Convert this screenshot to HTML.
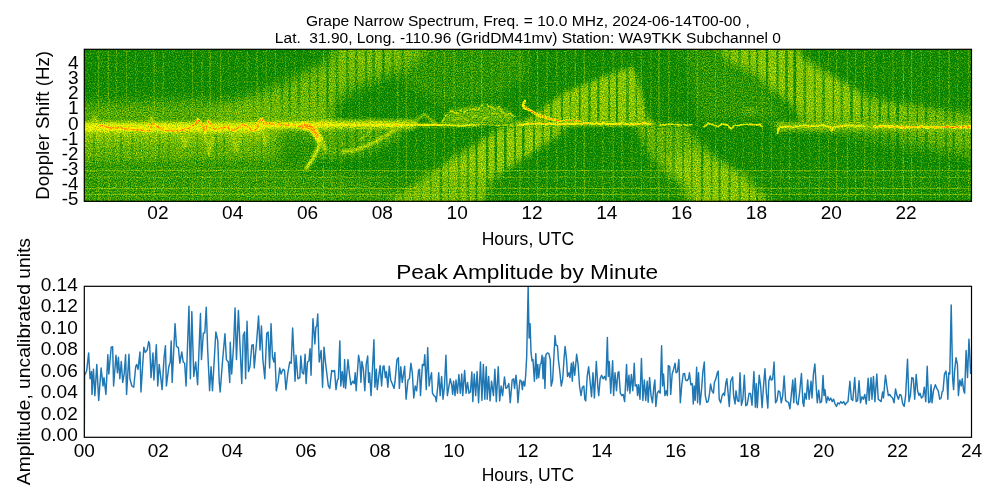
<!DOCTYPE html>
<html><head><meta charset="utf-8"><title>Grape Narrow Spectrum</title>
<style>
html,body{margin:0;padding:0;background:#fff;}
body{width:1000px;height:500px;position:relative;overflow:hidden;font-family:"Liberation Sans",sans-serif;color:#000;}
svg{position:absolute;left:0;top:0;}
</style></head><body>
<svg width="1000" height="500" viewBox="0 0 1000 500">
<defs>
<clipPath id="c1"><rect x="84.3" y="49.3" width="887.2" height="152.0"/></clipPath>
<clipPath id="c2"><rect x="84.3" y="286.3" width="887.2" height="151.0"/></clipPath>
<mask id="stripes" maskUnits="userSpaceOnUse" x="60" y="30" width="940" height="190"><rect x="60" y="30" width="940" height="190" fill="#fff"/><path d="M93.83 40V210" stroke="#000" stroke-opacity="0.87" stroke-width="2.25"/><path d="M103.30 40V210" stroke="#000" stroke-opacity="0.53" stroke-width="2.30"/><path d="M112.89 40V210" stroke="#000" stroke-opacity="0.49" stroke-width="2.65"/><path d="M121.17 40V210" stroke="#000" stroke-opacity="0.76" stroke-width="2.68"/><path d="M132.30 40V210" stroke="#000" stroke-opacity="0.74" stroke-width="2.94"/><path d="M140.01 40V210" stroke="#000" stroke-opacity="0.69" stroke-width="1.33"/><path d="M149.42 40V210" stroke="#000" stroke-opacity="0.46" stroke-width="1.71"/><path d="M159.28 40V210" stroke="#000" stroke-opacity="0.68" stroke-width="2.73"/><path d="M168.75 40V210" stroke="#000" stroke-opacity="0.66" stroke-width="2.43"/><path d="M179.10 40V210" stroke="#000" stroke-opacity="0.83" stroke-width="2.99"/><path d="M187.08 40V210" stroke="#000" stroke-opacity="0.58" stroke-width="1.69"/><path d="M197.34 40V210" stroke="#000" stroke-opacity="0.83" stroke-width="1.98"/><path d="M207.07 40V210" stroke="#000" stroke-opacity="0.45" stroke-width="2.74"/><path d="M216.33 40V210" stroke="#000" stroke-opacity="0.89" stroke-width="2.10"/><path d="M224.01 40V210" stroke="#000" stroke-opacity="0.80" stroke-width="2.37"/><path d="M233.39 40V210" stroke="#000" stroke-opacity="0.88" stroke-width="1.87"/><path d="M242.80 40V210" stroke="#000" stroke-opacity="0.50" stroke-width="1.72"/><path d="M253.52 40V210" stroke="#000" stroke-opacity="0.70" stroke-width="1.60"/><path d="M261.66 40V210" stroke="#000" stroke-opacity="0.51" stroke-width="2.54"/><path d="M270.86 40V210" stroke="#000" stroke-opacity="0.55" stroke-width="2.02"/><path d="M281.92 40V210" stroke="#000" stroke-opacity="0.59" stroke-width="2.67"/><path d="M289.75 40V210" stroke="#000" stroke-opacity="0.83" stroke-width="1.97"/><path d="M298.88 40V210" stroke="#000" stroke-opacity="0.55" stroke-width="2.98"/><path d="M309.58 40V210" stroke="#000" stroke-opacity="0.58" stroke-width="1.86"/><path d="M317.57 40V210" stroke="#000" stroke-opacity="0.56" stroke-width="2.29"/><path d="M327.48 40V210" stroke="#000" stroke-opacity="0.88" stroke-width="2.07"/><path d="M337.24 40V210" stroke="#000" stroke-opacity="0.53" stroke-width="2.77"/><path d="M347.26 40V210" stroke="#000" stroke-opacity="0.56" stroke-width="2.69"/><path d="M356.28 40V210" stroke="#000" stroke-opacity="0.54" stroke-width="2.90"/><path d="M365.92 40V210" stroke="#000" stroke-opacity="0.64" stroke-width="2.33"/><path d="M373.58 40V210" stroke="#000" stroke-opacity="0.56" stroke-width="2.94"/><path d="M383.37 40V210" stroke="#000" stroke-opacity="0.72" stroke-width="2.70"/><path d="M392.56 40V210" stroke="#000" stroke-opacity="0.48" stroke-width="2.52"/><path d="M402.68 40V210" stroke="#000" stroke-opacity="0.73" stroke-width="2.75"/><path d="M412.75 40V210" stroke="#000" stroke-opacity="0.46" stroke-width="1.65"/><path d="M421.16 40V210" stroke="#000" stroke-opacity="0.53" stroke-width="1.40"/><path d="M430.76 40V210" stroke="#000" stroke-opacity="0.61" stroke-width="1.52"/><path d="M440.93 40V210" stroke="#000" stroke-opacity="0.76" stroke-width="2.42"/><path d="M448.60 40V210" stroke="#000" stroke-opacity="0.46" stroke-width="1.36"/><path d="M459.08 40V210" stroke="#000" stroke-opacity="0.46" stroke-width="2.94"/><path d="M467.99 40V210" stroke="#000" stroke-opacity="0.59" stroke-width="2.54"/><path d="M476.53 40V210" stroke="#000" stroke-opacity="0.78" stroke-width="2.23"/><path d="M487.21 40V210" stroke="#000" stroke-opacity="0.81" stroke-width="2.50"/><path d="M495.79 40V210" stroke="#000" stroke-opacity="0.86" stroke-width="2.46"/><path d="M505.27 40V210" stroke="#000" stroke-opacity="0.84" stroke-width="2.64"/><path d="M515.04 40V210" stroke="#000" stroke-opacity="0.71" stroke-width="1.95"/><path d="M523.30 40V210" stroke="#000" stroke-opacity="0.90" stroke-width="2.39"/><path d="M533.95 40V210" stroke="#000" stroke-opacity="0.78" stroke-width="1.96"/><path d="M542.73 40V210" stroke="#000" stroke-opacity="0.49" stroke-width="2.73"/><path d="M551.26 40V210" stroke="#000" stroke-opacity="0.67" stroke-width="2.32"/><path d="M561.95 40V210" stroke="#000" stroke-opacity="0.73" stroke-width="2.15"/><path d="M570.42 40V210" stroke="#000" stroke-opacity="0.59" stroke-width="1.32"/><path d="M579.66 40V210" stroke="#000" stroke-opacity="0.86" stroke-width="1.59"/><path d="M589.50 40V210" stroke="#000" stroke-opacity="0.60" stroke-width="2.82"/><path d="M598.36 40V210" stroke="#000" stroke-opacity="0.81" stroke-width="2.03"/><path d="M609.08 40V210" stroke="#000" stroke-opacity="0.71" stroke-width="1.95"/><path d="M616.94 40V210" stroke="#000" stroke-opacity="0.83" stroke-width="2.14"/><path d="M627.44 40V210" stroke="#000" stroke-opacity="0.57" stroke-width="2.92"/><path d="M636.28 40V210" stroke="#000" stroke-opacity="0.55" stroke-width="1.77"/><path d="M645.98 40V210" stroke="#000" stroke-opacity="0.59" stroke-width="2.14"/><path d="M656.04 40V210" stroke="#000" stroke-opacity="0.48" stroke-width="2.07"/><path d="M665.18 40V210" stroke="#000" stroke-opacity="0.77" stroke-width="1.37"/><path d="M673.40 40V210" stroke="#000" stroke-opacity="0.46" stroke-width="2.65"/><path d="M683.05 40V210" stroke="#000" stroke-opacity="0.82" stroke-width="1.34"/><path d="M691.77 40V210" stroke="#000" stroke-opacity="0.73" stroke-width="1.38"/><path d="M702.10 40V210" stroke="#000" stroke-opacity="0.81" stroke-width="2.41"/><path d="M711.56 40V210" stroke="#000" stroke-opacity="0.66" stroke-width="1.64"/><path d="M719.57 40V210" stroke="#000" stroke-opacity="0.77" stroke-width="2.10"/><path d="M729.44 40V210" stroke="#000" stroke-opacity="0.76" stroke-width="1.89"/><path d="M739.48 40V210" stroke="#000" stroke-opacity="0.63" stroke-width="2.59"/><path d="M749.42 40V210" stroke="#000" stroke-opacity="0.87" stroke-width="1.45"/><path d="M757.22 40V210" stroke="#000" stroke-opacity="0.73" stroke-width="2.07"/><path d="M767.06 40V210" stroke="#000" stroke-opacity="0.85" stroke-width="2.27"/><path d="M777.55 40V210" stroke="#000" stroke-opacity="0.74" stroke-width="2.09"/><path d="M786.46 40V210" stroke="#000" stroke-opacity="0.74" stroke-width="2.69"/><path d="M794.79 40V210" stroke="#000" stroke-opacity="0.89" stroke-width="2.83"/><path d="M804.79 40V210" stroke="#000" stroke-opacity="0.59" stroke-width="2.64"/><path d="M814.78 40V210" stroke="#000" stroke-opacity="0.49" stroke-width="1.89"/><path d="M823.52 40V210" stroke="#000" stroke-opacity="0.67" stroke-width="2.61"/><path d="M833.39 40V210" stroke="#000" stroke-opacity="0.81" stroke-width="1.41"/><path d="M841.80 40V210" stroke="#000" stroke-opacity="0.51" stroke-width="2.64"/><path d="M851.51 40V210" stroke="#000" stroke-opacity="0.83" stroke-width="2.53"/><path d="M861.73 40V210" stroke="#000" stroke-opacity="0.88" stroke-width="2.14"/><path d="M869.63 40V210" stroke="#000" stroke-opacity="0.58" stroke-width="2.20"/><path d="M879.82 40V210" stroke="#000" stroke-opacity="0.83" stroke-width="2.19"/><path d="M888.51 40V210" stroke="#000" stroke-opacity="0.83" stroke-width="1.95"/><path d="M897.66 40V210" stroke="#000" stroke-opacity="0.89" stroke-width="2.75"/><path d="M907.74 40V210" stroke="#000" stroke-opacity="0.69" stroke-width="1.64"/><path d="M917.16 40V210" stroke="#000" stroke-opacity="0.89" stroke-width="1.35"/><path d="M926.10 40V210" stroke="#000" stroke-opacity="0.70" stroke-width="2.66"/><path d="M936.04 40V210" stroke="#000" stroke-opacity="0.69" stroke-width="1.41"/><path d="M945.92 40V210" stroke="#000" stroke-opacity="0.57" stroke-width="2.87"/><path d="M953.61 40V210" stroke="#000" stroke-opacity="0.82" stroke-width="2.04"/><path d="M963.66 40V210" stroke="#000" stroke-opacity="0.54" stroke-width="1.84"/><path d="M973.91 40V210" stroke="#000" stroke-opacity="0.80" stroke-width="1.52"/></mask><mask id="stripes2" maskUnits="userSpaceOnUse" x="60" y="30" width="940" height="190"><rect x="60" y="30" width="940" height="190" fill="#fff"/><path d="M93.83 40V210" stroke="#000" stroke-opacity="0.43" stroke-width="1.80"/><path d="M103.30 40V210" stroke="#000" stroke-opacity="0.27" stroke-width="1.84"/><path d="M112.89 40V210" stroke="#000" stroke-opacity="0.25" stroke-width="2.12"/><path d="M121.17 40V210" stroke="#000" stroke-opacity="0.38" stroke-width="2.14"/><path d="M132.30 40V210" stroke="#000" stroke-opacity="0.37" stroke-width="2.35"/><path d="M140.01 40V210" stroke="#000" stroke-opacity="0.34" stroke-width="1.06"/><path d="M149.42 40V210" stroke="#000" stroke-opacity="0.23" stroke-width="1.37"/><path d="M159.28 40V210" stroke="#000" stroke-opacity="0.34" stroke-width="2.19"/><path d="M168.75 40V210" stroke="#000" stroke-opacity="0.33" stroke-width="1.94"/><path d="M187.08 40V210" stroke="#000" stroke-opacity="0.29" stroke-width="1.35"/><path d="M197.34 40V210" stroke="#000" stroke-opacity="0.42" stroke-width="1.58"/><path d="M207.07 40V210" stroke="#000" stroke-opacity="0.23" stroke-width="2.19"/><path d="M216.33 40V210" stroke="#000" stroke-opacity="0.45" stroke-width="1.68"/><path d="M224.01 40V210" stroke="#000" stroke-opacity="0.40" stroke-width="1.90"/><path d="M242.80 40V210" stroke="#000" stroke-opacity="0.25" stroke-width="1.38"/><path d="M253.52 40V210" stroke="#000" stroke-opacity="0.35" stroke-width="1.28"/><path d="M261.66 40V210" stroke="#000" stroke-opacity="0.25" stroke-width="2.04"/><path d="M270.86 40V210" stroke="#000" stroke-opacity="0.27" stroke-width="1.61"/><path d="M289.75 40V210" stroke="#000" stroke-opacity="0.42" stroke-width="1.58"/><path d="M298.88 40V210" stroke="#000" stroke-opacity="0.27" stroke-width="2.39"/><path d="M309.58 40V210" stroke="#000" stroke-opacity="0.29" stroke-width="1.49"/><path d="M317.57 40V210" stroke="#000" stroke-opacity="0.28" stroke-width="1.83"/><path d="M327.48 40V210" stroke="#000" stroke-opacity="0.44" stroke-width="1.66"/><path d="M337.24 40V210" stroke="#000" stroke-opacity="0.27" stroke-width="2.22"/><path d="M347.26 40V210" stroke="#000" stroke-opacity="0.28" stroke-width="2.15"/><path d="M365.92 40V210" stroke="#000" stroke-opacity="0.32" stroke-width="1.86"/><path d="M383.37 40V210" stroke="#000" stroke-opacity="0.36" stroke-width="2.16"/><path d="M392.56 40V210" stroke="#000" stroke-opacity="0.24" stroke-width="2.02"/><path d="M402.68 40V210" stroke="#000" stroke-opacity="0.36" stroke-width="2.20"/><path d="M412.75 40V210" stroke="#000" stroke-opacity="0.23" stroke-width="1.32"/><path d="M421.16 40V210" stroke="#000" stroke-opacity="0.26" stroke-width="1.12"/><path d="M440.93 40V210" stroke="#000" stroke-opacity="0.38" stroke-width="1.93"/><path d="M459.08 40V210" stroke="#000" stroke-opacity="0.23" stroke-width="2.35"/><path d="M505.27 40V210" stroke="#000" stroke-opacity="0.42" stroke-width="2.12"/><path d="M515.04 40V210" stroke="#000" stroke-opacity="0.36" stroke-width="1.56"/><path d="M533.95 40V210" stroke="#000" stroke-opacity="0.39" stroke-width="1.57"/><path d="M551.26 40V210" stroke="#000" stroke-opacity="0.33" stroke-width="1.86"/><path d="M570.42 40V210" stroke="#000" stroke-opacity="0.29" stroke-width="1.06"/><path d="M579.66 40V210" stroke="#000" stroke-opacity="0.43" stroke-width="1.27"/><path d="M589.50 40V210" stroke="#000" stroke-opacity="0.30" stroke-width="2.25"/><path d="M609.08 40V210" stroke="#000" stroke-opacity="0.36" stroke-width="1.56"/><path d="M627.44 40V210" stroke="#000" stroke-opacity="0.29" stroke-width="2.33"/><path d="M636.28 40V210" stroke="#000" stroke-opacity="0.27" stroke-width="1.41"/><path d="M656.04 40V210" stroke="#000" stroke-opacity="0.24" stroke-width="1.66"/><path d="M665.18 40V210" stroke="#000" stroke-opacity="0.38" stroke-width="1.10"/><path d="M673.40 40V210" stroke="#000" stroke-opacity="0.23" stroke-width="2.12"/><path d="M683.05 40V210" stroke="#000" stroke-opacity="0.41" stroke-width="1.07"/><path d="M691.77 40V210" stroke="#000" stroke-opacity="0.37" stroke-width="1.10"/><path d="M711.56 40V210" stroke="#000" stroke-opacity="0.33" stroke-width="1.31"/><path d="M719.57 40V210" stroke="#000" stroke-opacity="0.39" stroke-width="1.68"/><path d="M729.44 40V210" stroke="#000" stroke-opacity="0.38" stroke-width="1.51"/><path d="M777.55 40V210" stroke="#000" stroke-opacity="0.37" stroke-width="1.67"/><path d="M814.78 40V210" stroke="#000" stroke-opacity="0.24" stroke-width="1.51"/><path d="M823.52 40V210" stroke="#000" stroke-opacity="0.33" stroke-width="2.08"/><path d="M833.39 40V210" stroke="#000" stroke-opacity="0.40" stroke-width="1.13"/><path d="M841.80 40V210" stroke="#000" stroke-opacity="0.26" stroke-width="2.11"/><path d="M851.51 40V210" stroke="#000" stroke-opacity="0.41" stroke-width="2.02"/><path d="M861.73 40V210" stroke="#000" stroke-opacity="0.44" stroke-width="1.71"/><path d="M879.82 40V210" stroke="#000" stroke-opacity="0.41" stroke-width="1.75"/><path d="M897.66 40V210" stroke="#000" stroke-opacity="0.44" stroke-width="2.20"/><path d="M907.74 40V210" stroke="#000" stroke-opacity="0.35" stroke-width="1.31"/><path d="M917.16 40V210" stroke="#000" stroke-opacity="0.44" stroke-width="1.08"/><path d="M926.10 40V210" stroke="#000" stroke-opacity="0.35" stroke-width="2.13"/><path d="M936.04 40V210" stroke="#000" stroke-opacity="0.35" stroke-width="1.13"/><path d="M945.92 40V210" stroke="#000" stroke-opacity="0.29" stroke-width="2.30"/><path d="M963.66 40V210" stroke="#000" stroke-opacity="0.27" stroke-width="1.47"/><path d="M973.91 40V210" stroke="#000" stroke-opacity="0.40" stroke-width="1.22"/></mask>
<filter id="b05" filterUnits="userSpaceOnUse" x="40" y="20" width="980" height="210"><feGaussianBlur stdDeviation="0.5"/></filter>
<filter id="b2" filterUnits="userSpaceOnUse" x="40" y="20" width="980" height="210"><feGaussianBlur stdDeviation="2"/></filter>
<filter id="b3" filterUnits="userSpaceOnUse" x="40" y="20" width="980" height="210"><feGaussianBlur stdDeviation="3.5"/></filter>
<filter id="b6" filterUnits="userSpaceOnUse" x="40" y="20" width="980" height="210"><feGaussianBlur stdDeviation="6"/></filter>
<filter id="b1" filterUnits="userSpaceOnUse" x="40" y="20" width="980" height="210"><feGaussianBlur stdDeviation="0.8"/></filter>
<filter id="cmap" filterUnits="userSpaceOnUse" x="79.3" y="44.3" width="897.2" height="162.0" color-interpolation-filters="sRGB">
<feTurbulence type="fractalNoise" baseFrequency="0.85 0.8" numOctaves="2" seed="7" result="n"/>
<feColorMatrix in="n" type="matrix" values="0.62 0 0 0 0  0.62 0 0 0 0  0.62 0 0 0 0  0 0 0 0 1" result="ng"/>
<feComposite in="SourceGraphic" in2="ng" operator="arithmetic" k1="0" k2="1" k3="1" k4="-0.310" result="v"/>
<feComponentTransfer in="v">
<feFuncR type="table" tableValues="0 0.5 1 1 1"/>
<feFuncG type="table" tableValues="0.502 0.751 1 0.5 0"/>
<feFuncB type="table" tableValues="0 0"/>
<feFuncA type="table" tableValues="1 1"/>
</feComponentTransfer>
</filter>
</defs>
<g clip-path="url(#c1)"><g filter="url(#cmap)">
<rect x="64.3" y="29.299999999999997" width="927.2" height="192.0" fill="rgb(8,8,8)"/>
<polygon points="60.0,171.0 1000.0,171.0 1000.0,210.0 60.0,210.0" fill="rgb(17,17,17)" filter="url(#b2)"/>
<polygon points="60.0,168.0 300.0,168.0 400.0,185.0 420.0,210.0 60.0,210.0" fill="rgb(26,26,26)" filter="url(#b6)"/>
<polygon points="400.0,40.0 525.0,40.0 530.0,75.0 500.0,96.0 440.0,104.0 400.0,80.0" fill="rgb(24,24,24)" filter="url(#b6)"/>
<polygon points="680.0,40.0 730.0,40.0 790.0,120.0 700.0,122.0" fill="rgb(20,20,20)" filter="url(#b6)"/>
<polygon points="60.0,104.0 200.0,100.0 330.0,108.0 330.0,126.0 60.0,126.0" fill="rgb(43,43,43)" filter="url(#b6)"/>
<path d="M98.53 40V210" stroke="rgb(61,61,61)" stroke-width="1.38" stroke-opacity="0.57" fill="none"/>
<path d="M108.39 40V210" stroke="rgb(61,61,61)" stroke-width="1.45" stroke-opacity="0.57" fill="none"/>
<path d="M116.28 40V210" stroke="rgb(61,61,61)" stroke-width="1.47" stroke-opacity="0.43" fill="none"/>
<path d="M126.62 40V210" stroke="rgb(61,61,61)" stroke-width="0.97" stroke-opacity="0.65" fill="none"/>
<path d="M135.69 40V210" stroke="rgb(61,61,61)" stroke-width="1.23" stroke-opacity="0.32" fill="none"/>
<path d="M145.21 40V210" stroke="rgb(61,61,61)" stroke-width="1.03" stroke-opacity="0.21" fill="none"/>
<path d="M154.09 40V210" stroke="rgb(61,61,61)" stroke-width="1.36" stroke-opacity="0.66" fill="none"/>
<path d="M163.25 40V210" stroke="rgb(61,61,61)" stroke-width="0.98" stroke-opacity="0.60" fill="none"/>
<path d="M173.34 40V210" stroke="rgb(61,61,61)" stroke-width="0.90" stroke-opacity="0.26" fill="none"/>
<path d="M183.10 40V210" stroke="rgb(61,61,61)" stroke-width="1.03" stroke-opacity="0.30" fill="none"/>
<path d="M192.63 40V210" stroke="rgb(61,61,61)" stroke-width="1.07" stroke-opacity="0.64" fill="none"/>
<path d="M201.94 40V210" stroke="rgb(61,61,61)" stroke-width="1.31" stroke-opacity="0.47" fill="none"/>
<path d="M210.09 40V210" stroke="rgb(61,61,61)" stroke-width="1.31" stroke-opacity="0.67" fill="none"/>
<path d="M220.66 40V210" stroke="rgb(61,61,61)" stroke-width="1.08" stroke-opacity="0.65" fill="none"/>
<path d="M229.04 40V210" stroke="rgb(61,61,61)" stroke-width="0.99" stroke-opacity="0.28" fill="none"/>
<path d="M237.92 40V210" stroke="rgb(61,61,61)" stroke-width="1.26" stroke-opacity="0.35" fill="none"/>
<path d="M247.17 40V210" stroke="rgb(61,61,61)" stroke-width="1.10" stroke-opacity="0.54" fill="none"/>
<path d="M257.02 40V210" stroke="rgb(61,61,61)" stroke-width="1.19" stroke-opacity="0.61" fill="none"/>
<path d="M266.38 40V210" stroke="rgb(61,61,61)" stroke-width="1.32" stroke-opacity="0.44" fill="none"/>
<path d="M275.32 40V210" stroke="rgb(61,61,61)" stroke-width="0.91" stroke-opacity="0.69" fill="none"/>
<path d="M285.78 40V210" stroke="rgb(61,61,61)" stroke-width="0.91" stroke-opacity="0.62" fill="none"/>
<path d="M295.19 40V210" stroke="rgb(61,61,61)" stroke-width="1.25" stroke-opacity="0.38" fill="none"/>
<path d="M303.30 40V210" stroke="rgb(61,61,61)" stroke-width="1.01" stroke-opacity="0.22" fill="none"/>
<path d="M314.16 40V210" stroke="rgb(61,61,61)" stroke-width="1.35" stroke-opacity="0.30" fill="none"/>
<path d="M323.48 40V210" stroke="rgb(61,61,61)" stroke-width="1.11" stroke-opacity="0.67" fill="none"/>
<path d="M331.91 40V210" stroke="rgb(61,61,61)" stroke-width="1.37" stroke-opacity="0.46" fill="none"/>
<path d="M340.87 40V210" stroke="rgb(61,61,61)" stroke-width="1.38" stroke-opacity="0.57" fill="none"/>
<path d="M351.42 40V210" stroke="rgb(61,61,61)" stroke-width="1.47" stroke-opacity="0.22" fill="none"/>
<path d="M359.54 40V210" stroke="rgb(61,61,61)" stroke-width="1.27" stroke-opacity="0.37" fill="none"/>
<path d="M370.22 40V210" stroke="rgb(61,61,61)" stroke-width="1.45" stroke-opacity="0.37" fill="none"/>
<path d="M378.98 40V210" stroke="rgb(61,61,61)" stroke-width="1.09" stroke-opacity="0.36" fill="none"/>
<path d="M387.74 40V210" stroke="rgb(61,61,61)" stroke-width="0.99" stroke-opacity="0.24" fill="none"/>
<path d="M397.91 40V210" stroke="rgb(61,61,61)" stroke-width="1.00" stroke-opacity="0.70" fill="none"/>
<path d="M406.24 40V210" stroke="rgb(61,61,61)" stroke-width="1.22" stroke-opacity="0.69" fill="none"/>
<path d="M416.16 40V210" stroke="rgb(61,61,61)" stroke-width="1.26" stroke-opacity="0.32" fill="none"/>
<path d="M426.19 40V210" stroke="rgb(61,61,61)" stroke-width="1.15" stroke-opacity="0.43" fill="none"/>
<path d="M434.31 40V210" stroke="rgb(61,61,61)" stroke-width="0.92" stroke-opacity="0.66" fill="none"/>
<path d="M444.36 40V210" stroke="rgb(61,61,61)" stroke-width="0.98" stroke-opacity="0.62" fill="none"/>
<path d="M454.09 40V210" stroke="rgb(61,61,61)" stroke-width="1.28" stroke-opacity="0.67" fill="none"/>
<path d="M463.54 40V210" stroke="rgb(61,61,61)" stroke-width="1.16" stroke-opacity="0.25" fill="none"/>
<path d="M471.87 40V210" stroke="rgb(61,61,61)" stroke-width="1.08" stroke-opacity="0.62" fill="none"/>
<path d="M481.71 40V210" stroke="rgb(61,61,61)" stroke-width="1.41" stroke-opacity="0.70" fill="none"/>
<path d="M491.90 40V210" stroke="rgb(61,61,61)" stroke-width="1.19" stroke-opacity="0.43" fill="none"/>
<path d="M500.85 40V210" stroke="rgb(61,61,61)" stroke-width="1.07" stroke-opacity="0.44" fill="none"/>
<path d="M509.68 40V210" stroke="rgb(61,61,61)" stroke-width="1.13" stroke-opacity="0.27" fill="none"/>
<path d="M519.97 40V210" stroke="rgb(61,61,61)" stroke-width="1.28" stroke-opacity="0.68" fill="none"/>
<path d="M528.54 40V210" stroke="rgb(61,61,61)" stroke-width="0.95" stroke-opacity="0.37" fill="none"/>
<path d="M537.53 40V210" stroke="rgb(61,61,61)" stroke-width="1.42" stroke-opacity="0.59" fill="none"/>
<path d="M547.03 40V210" stroke="rgb(61,61,61)" stroke-width="1.36" stroke-opacity="0.59" fill="none"/>
<path d="M556.91 40V210" stroke="rgb(61,61,61)" stroke-width="1.36" stroke-opacity="0.53" fill="none"/>
<path d="M565.74 40V210" stroke="rgb(61,61,61)" stroke-width="1.07" stroke-opacity="0.55" fill="none"/>
<path d="M575.28 40V210" stroke="rgb(61,61,61)" stroke-width="1.31" stroke-opacity="0.58" fill="none"/>
<path d="M584.33 40V210" stroke="rgb(61,61,61)" stroke-width="1.29" stroke-opacity="0.67" fill="none"/>
<path d="M594.14 40V210" stroke="rgb(61,61,61)" stroke-width="1.23" stroke-opacity="0.21" fill="none"/>
<path d="M602.97 40V210" stroke="rgb(61,61,61)" stroke-width="1.18" stroke-opacity="0.54" fill="none"/>
<path d="M613.22 40V210" stroke="rgb(61,61,61)" stroke-width="1.38" stroke-opacity="0.52" fill="none"/>
<path d="M621.83 40V210" stroke="rgb(61,61,61)" stroke-width="1.34" stroke-opacity="0.52" fill="none"/>
<path d="M631.95 40V210" stroke="rgb(61,61,61)" stroke-width="1.41" stroke-opacity="0.38" fill="none"/>
<path d="M641.37 40V210" stroke="rgb(61,61,61)" stroke-width="1.49" stroke-opacity="0.54" fill="none"/>
<path d="M650.86 40V210" stroke="rgb(61,61,61)" stroke-width="1.22" stroke-opacity="0.46" fill="none"/>
<path d="M658.94 40V210" stroke="rgb(61,61,61)" stroke-width="1.46" stroke-opacity="0.62" fill="none"/>
<path d="M668.79 40V210" stroke="rgb(61,61,61)" stroke-width="1.33" stroke-opacity="0.55" fill="none"/>
<path d="M678.55 40V210" stroke="rgb(61,61,61)" stroke-width="1.37" stroke-opacity="0.29" fill="none"/>
<path d="M687.67 40V210" stroke="rgb(61,61,61)" stroke-width="1.15" stroke-opacity="0.53" fill="none"/>
<path d="M697.09 40V210" stroke="rgb(61,61,61)" stroke-width="1.28" stroke-opacity="0.59" fill="none"/>
<path d="M706.59 40V210" stroke="rgb(61,61,61)" stroke-width="1.00" stroke-opacity="0.21" fill="none"/>
<path d="M715.50 40V210" stroke="rgb(61,61,61)" stroke-width="1.03" stroke-opacity="0.53" fill="none"/>
<path d="M725.24 40V210" stroke="rgb(61,61,61)" stroke-width="0.93" stroke-opacity="0.52" fill="none"/>
<path d="M734.25 40V210" stroke="rgb(61,61,61)" stroke-width="0.93" stroke-opacity="0.31" fill="none"/>
<path d="M743.07 40V210" stroke="rgb(61,61,61)" stroke-width="1.01" stroke-opacity="0.36" fill="none"/>
<path d="M752.51 40V210" stroke="rgb(61,61,61)" stroke-width="1.18" stroke-opacity="0.22" fill="none"/>
<path d="M762.16 40V210" stroke="rgb(61,61,61)" stroke-width="1.25" stroke-opacity="0.51" fill="none"/>
<path d="M771.29 40V210" stroke="rgb(61,61,61)" stroke-width="0.90" stroke-opacity="0.65" fill="none"/>
<path d="M780.91 40V210" stroke="rgb(61,61,61)" stroke-width="1.15" stroke-opacity="0.34" fill="none"/>
<path d="M789.80 40V210" stroke="rgb(61,61,61)" stroke-width="1.12" stroke-opacity="0.62" fill="none"/>
<path d="M799.02 40V210" stroke="rgb(61,61,61)" stroke-width="0.96" stroke-opacity="0.51" fill="none"/>
<path d="M809.19 40V210" stroke="rgb(61,61,61)" stroke-width="1.25" stroke-opacity="0.37" fill="none"/>
<path d="M819.20 40V210" stroke="rgb(61,61,61)" stroke-width="1.15" stroke-opacity="0.61" fill="none"/>
<path d="M828.32 40V210" stroke="rgb(61,61,61)" stroke-width="1.12" stroke-opacity="0.52" fill="none"/>
<path d="M836.60 40V210" stroke="rgb(61,61,61)" stroke-width="1.24" stroke-opacity="0.50" fill="none"/>
<path d="M847.26 40V210" stroke="rgb(61,61,61)" stroke-width="1.27" stroke-opacity="0.68" fill="none"/>
<path d="M855.64 40V210" stroke="rgb(61,61,61)" stroke-width="0.90" stroke-opacity="0.65" fill="none"/>
<path d="M864.61 40V210" stroke="rgb(61,61,61)" stroke-width="1.27" stroke-opacity="0.48" fill="none"/>
<path d="M874.01 40V210" stroke="rgb(61,61,61)" stroke-width="1.43" stroke-opacity="0.51" fill="none"/>
<path d="M883.74 40V210" stroke="rgb(61,61,61)" stroke-width="1.04" stroke-opacity="0.42" fill="none"/>
<path d="M892.96 40V210" stroke="rgb(61,61,61)" stroke-width="1.13" stroke-opacity="0.69" fill="none"/>
<path d="M903.38 40V210" stroke="rgb(61,61,61)" stroke-width="1.26" stroke-opacity="0.66" fill="none"/>
<path d="M911.61 40V210" stroke="rgb(61,61,61)" stroke-width="1.20" stroke-opacity="0.69" fill="none"/>
<path d="M921.21 40V210" stroke="rgb(61,61,61)" stroke-width="1.49" stroke-opacity="0.36" fill="none"/>
<path d="M930.69 40V210" stroke="rgb(61,61,61)" stroke-width="1.19" stroke-opacity="0.34" fill="none"/>
<path d="M939.45 40V210" stroke="rgb(61,61,61)" stroke-width="1.17" stroke-opacity="0.51" fill="none"/>
<path d="M949.08 40V210" stroke="rgb(61,61,61)" stroke-width="1.40" stroke-opacity="0.59" fill="none"/>
<path d="M957.98 40V210" stroke="rgb(61,61,61)" stroke-width="1.06" stroke-opacity="0.47" fill="none"/>
<path d="M968.81 40V210" stroke="rgb(61,61,61)" stroke-width="1.05" stroke-opacity="0.59" fill="none"/>
<path d="M977.09 40V210" stroke="rgb(61,61,61)" stroke-width="1.49" stroke-opacity="0.28" fill="none"/>
<g mask="url(#stripes2)">
<polygon points="60.0,125.0 345.0,125.0 335.0,150.0 300.0,172.0 60.0,176.0" fill="rgb(29,29,29)" filter="url(#b3)"/>
<polygon points="60.0,125.0 322.0,125.0 300.0,152.0 270.0,159.0 60.0,161.0" fill="rgb(48,48,48)" filter="url(#b3)"/>
<polygon points="60.0,125.0 280.0,125.0 270.0,141.0 60.0,144.0" fill="rgb(69,69,69)" filter="url(#b3)"/>
</g>
<polygon points="280.0,136.0 304.0,133.0 311.0,150.0 300.0,167.0 278.0,165.0" fill="rgb(15,15,15)" fill-opacity="0.8" filter="url(#b3)"/>
<g mask="url(#stripes)">
<polygon points="318.0,127.0 408.0,127.0 398.0,140.0 372.0,153.0 340.0,160.0 318.0,158.0" fill="rgb(42,42,42)" filter="url(#b3)"/>
<polygon points="196.0,125.0 219.0,108.0 284.0,83.0 330.0,60.0 334.0,40.0 426.0,40.0 420.0,60.0 396.0,74.0 362.0,85.0 340.0,98.0 326.0,125.0" fill="rgb(57,57,57)" filter="url(#b6)"/>
<polygon points="345.0,40.0 405.0,40.0 385.0,62.0 335.0,72.0" fill="rgb(66,66,66)" fill-opacity="0.5" filter="url(#b6)"/>
<polygon points="375.0,210.0 390.0,201.0 420.0,180.0 450.0,159.0 480.0,141.0 503.0,125.0 572.0,125.0 546.0,144.0 522.0,159.0 492.0,180.0 482.0,210.0" fill="rgb(60,60,60)" filter="url(#b3)"/>
<polygon points="440.0,172.0 480.0,146.0 506.0,127.0 562.0,127.0 524.0,156.0 488.0,176.0" fill="rgb(74,74,74)" fill-opacity="0.8" filter="url(#b3)"/>
<polygon points="512.0,125.0 529.0,118.0 565.0,92.0 596.0,79.0 633.0,66.0 641.0,90.0 647.0,113.0 653.0,125.0" fill="rgb(69,69,69)" filter="url(#b2)"/>
<polygon points="634.0,124.0 650.0,159.0 680.0,186.0 690.0,210.0 778.0,210.0 749.0,177.0 719.0,159.0 682.0,124.0" fill="rgb(48,48,48)" filter="url(#b3)"/>
<polygon points="662.0,160.0 690.0,188.0 700.0,210.0 770.0,210.0 745.0,180.0 715.0,160.0 690.0,150.0" fill="rgb(69,69,69)" fill-opacity="0.9" filter="url(#b3)"/>
<polygon points="716.0,40.0 725.0,60.0 755.0,75.0 770.0,90.0 791.0,105.0 802.0,124.0 985.0,124.0 985.0,115.0 950.0,111.0 920.0,106.0 890.0,102.0 866.0,96.0 842.0,81.0 820.0,69.0 800.0,55.0 796.0,40.0" fill="rgb(60,60,60)" filter="url(#b3)"/>
<polygon points="730.0,40.0 794.0,40.0 800.0,58.0 820.0,72.0 842.0,84.0 860.0,96.0 862.0,120.0 815.0,120.0 792.0,100.0 760.0,74.0" fill="rgb(71,71,71)" fill-opacity="0.7" filter="url(#b3)"/>
<polygon points="790.0,124.0 985.0,124.0 985.0,160.0 900.0,146.0" fill="rgb(38,38,38)" filter="url(#b6)"/>
<polygon points="880.0,124.0 985.0,124.0 985.0,150.0 930.0,142.0" fill="rgb(54,54,54)" filter="url(#b6)"/>
</g>
<path d="M60 170.6H1000" stroke="rgb(76,76,76)" stroke-width="1" stroke-opacity="0.7" fill="none"/>
<path d="M60 177.2H1000" stroke="rgb(76,76,76)" stroke-width="1" stroke-opacity="0.5" fill="none"/>
<path d="M60 188.4H1000" stroke="rgb(76,76,76)" stroke-width="1" stroke-opacity="0.7" fill="none"/>
<path d="M60 194.4H1000" stroke="rgb(76,76,76)" stroke-width="1" stroke-opacity="0.75" fill="none"/>
<path d="M60 127.3H263" stroke="rgb(110,110,110)" stroke-width="10" fill="none" filter="url(#b2)" stroke-opacity="0.95"/>
<path d="M60 127.5H263" stroke="rgb(120,120,120)" stroke-width="5" fill="none" filter="url(#b1)" stroke-opacity="0.9"/>
<path d="M258 125.2H330" stroke="rgb(107,107,107)" stroke-width="7" fill="none" filter="url(#b2)" stroke-opacity="0.95"/>
<path d="M258 125H325" stroke="rgb(122,122,122)" stroke-width="3.5" fill="none" filter="url(#b1)" stroke-opacity="0.9"/>
<path d="M322 124.4H415" stroke="rgb(107,107,107)" stroke-width="8.5" fill="none" filter="url(#b2)" stroke-opacity="0.95"/>
<path d="M405 125H480" stroke="rgb(69,69,69)" stroke-width="5" fill="none" filter="url(#b1)" stroke-opacity="0.8"/>
<path d="M515 123.8H655" stroke="rgb(76,76,76)" stroke-width="5" fill="none" filter="url(#b1)" stroke-opacity="0.7"/>
<path d="M775 126.5H985" stroke="rgb(76,76,76)" stroke-width="9" fill="none" filter="url(#b2)" stroke-opacity="0.8"/>
<path d="M92 122L94.5 116.5L97 122M149 123L151.5 117L154 123M412 124L424 114L436 124" stroke="rgb(92,92,92)" stroke-width="2" fill="none" filter="url(#b1)"/>
<path d="M325.0 124.7 L326.5 125.0 L328.0 125.1 L329.5 125.1 L331.1 124.8 L332.6 125.1 L334.1 125.4 L335.6 125.2 L337.1 125.1 L338.6 124.8 L340.1 124.5 L341.6 124.6 L343.2 124.8 L344.7 124.5 L346.2 125.0 L347.7 124.7 L349.2 124.6 L350.7 124.3 L352.2 125.1 L353.7 125.2 L355.3 125.5 L356.8 125.4 L358.3 124.8 L359.8 124.7 L361.3 124.8 L362.8 124.6 L364.3 125.1 L365.8 125.0 L367.4 124.7 L368.9 125.1 L370.4 124.7 L371.9 125.2 L373.4 125.1 L374.9 125.1 L376.4 124.9 L377.9 124.9 L379.5 124.7 L381.0 124.4 L382.5 125.0 L384.0 124.7 L385.5 125.1 L387.0 124.8 L388.5 125.3 L390.0 125.5 L391.5 125.5 L393.0 125.6 L394.6 125.4 L396.1 125.5 L397.6 124.9 L399.1 124.9 L400.6 125.3 L402.1 124.9 L403.6 125.3 L405.1 125.5 L406.6 125.2 L408.1 125.0 L409.6 125.0 L411.1 124.9 L412.7 125.4 L414.2 125.1 L415.7 124.6 L417.2 124.4 L418.7 124.8 L420.2 125.4 L421.7 125.2 L423.2 125.1 L424.7 125.1 L426.2 125.3 L427.7 124.9 L429.2 125.1 L430.8 125.1 L432.3 125.2 L433.8 124.8 L435.3 124.6 L436.8 124.6 L438.3 125.2 L439.8 125.0 L441.3 125.1 L442.8 124.9 L444.3 124.6 L445.8 124.3 L447.3 124.9 L448.9 125.2 L450.4 125.0 L451.9 125.2 L453.4 125.3 L454.9 125.5 L456.4 125.7 L457.9 125.3 L459.4 125.6 L460.9 125.8 L462.4 125.6 L463.9 125.7 L465.4 125.4 L467.0 125.1 L468.5 124.8 L470.0 125.2 L471.5 124.8 L473.0 124.5 L474.5 125.0 L476.0 125.0" stroke="rgb(133,133,133)" stroke-width="1.7" fill="none" filter="url(#b05)" stroke-linecap="round"/>
<path d="M476.0 125.5 L477.5 124.9 L479.0 124.3 L480.6 125.2 L482.1 124.7 L483.6 124.3 L485.1 124.7 L486.6 124.6 L488.1 125.2 L489.7 124.7 L491.2 125.3 L492.7 124.9 L494.2 125.0 L495.7 125.4 L497.2 125.4 L498.8 125.7 L500.3 125.5 L501.8 124.7 L503.3 125.2 L504.8 125.1 L506.3 124.7 L507.9 124.3 L509.4 124.9 L510.9 124.9 L512.4 125.3 L513.9 125.4 L515.4 125.6 L517.0 125.3 L518.5 125.3 L520.0 124.6" stroke="rgb(102,102,102)" stroke-width="1.4" fill="none" stroke-dasharray="4 3" filter="url(#b05)" stroke-linecap="round"/>
<path d="M520.0 124.6 L521.5 124.9 L523.0 125.0 L524.6 124.2 L526.1 124.3 L527.6 124.2 L529.1 124.2 L530.7 123.8 L532.2 123.6 L533.7 123.7 L535.2 123.6 L536.8 123.8 L538.3 123.4 L539.8 123.3 L541.3 123.8 L542.9 123.8 L544.4 123.9 L545.9 124.2 L547.4 124.0 L549.0 123.5 L550.5 124.0 L552.0 124.1 L553.5 124.2 L555.0 124.2 L556.6 124.6 L558.1 124.2 L559.6 124.4 L561.1 124.1 L562.7 124.1 L564.2 124.2 L565.7 123.9 L567.2 123.5 L568.8 123.6 L570.3 123.9 L571.8 124.0 L573.3 123.9 L574.9 124.0 L576.4 123.6 L577.9 123.4 L579.4 123.4 L581.0 123.9 L582.5 123.5 L584.0 123.2 L585.5 123.1 L587.0 122.9 L588.5 123.0 L590.0 123.4 L591.5 123.9 L593.0 123.7 L594.5 123.6 L596.0 123.4 L597.5 123.4 L599.0 123.8 L600.5 123.8 L602.0 123.5 L603.5 123.2 L605.0 123.7 L606.5 123.9 L608.0 124.2 L609.5 123.7 L611.0 123.8 L612.5 124.2 L614.0 124.1 L615.5 124.4 L617.0 123.8 L618.5 124.2 L620.0 123.6 L621.5 123.5 L623.0 123.1 L624.5 123.6 L626.0 123.8 L627.5 124.2 L629.0 124.3 L630.5 124.5 L632.0 124.2 L633.5 124.5 L635.0 124.4 L636.5 123.9 L638.0 124.3 L639.5 123.9 L641.0 123.5 L642.5 123.1 L644.0 123.3 L645.5 123.1 L647.0 123.7 L648.5 124.1 L650.0 123.6" stroke="rgb(133,133,133)" stroke-width="1.8" fill="none" filter="url(#b05)" stroke-linecap="round"/>
<path d="M660.0 125.1 L661.5 125.3 L663.0 124.6 L664.5 125.2 L666.0 124.5 L667.5 124.7 L669.0 124.1 L670.5 124.5 L672.0 124.0 L673.5 124.3 L675.0 124.5 L676.5 124.7 L678.1 124.5 L679.6 124.9 L681.2 125.3 L682.7 124.6 L684.3 124.6 L685.8 125.2 L687.4 125.3 L688.9 125.0 L690.5 124.7 L692.0 124.8" stroke="rgb(112,112,112)" stroke-width="1.5" fill="none" stroke-dasharray="7 2 5 1.5" filter="url(#b05)" stroke-linecap="round"/>
<path d="M704.0 126.9 L705.3 126.0 L706.7 124.9 L708.0 123.0 L709.5 123.9 L711.0 124.4 L712.5 124.3 L714.0 125.3 L716.0 125.9 L718.0 126.8 L719.3 125.8 L720.7 125.0 L722.0 123.6 L723.5 124.2 L725.0 124.8 L726.5 124.9 L728.0 125.4 L729.0 126.7 L730.0 128.2 L731.0 129.0 L732.5 127.4 L734.0 125.9 L735.7 125.3 L737.3 125.7 L739.0 125.6 L740.7 124.8 L742.3 124.8 L744.0 124.5 L745.7 124.3 L747.3 124.2 L749.0 124.4 L750.7 124.2 L752.3 124.6 L754.0 124.8 L755.5 124.5 L757.0 125.1 L758.5 124.6 L760.0 124.4 L762.0 126.6" stroke="rgb(115,115,115)" stroke-width="1.6" fill="none" filter="url(#b05)" stroke-linecap="round"/>
<path d="M777.5 133.3 L778.0 131.1 L778.5 129.1 L779.0 127.8 L780.5 126.8 L782.0 126.9 L783.5 127.2 L785.0 126.3 L786.5 126.6 L788.0 126.5 L789.5 126.6 L791.0 127.0 L792.5 127.3 L794.0 126.6 L795.5 126.7 L797.0 126.6 L798.5 126.8 L800.0 125.6 L801.5 126.2 L803.1 125.6 L804.6 125.1 L806.2 125.5 L807.7 126.1 L809.2 126.6 L810.8 126.1 L812.3 126.5 L813.8 125.6 L815.4 126.4 L816.9 125.9 L818.5 126.0 L820.0 125.5 L821.7 125.2 L823.3 124.9 L825.0 125.6 L826.7 126.1 L828.3 126.7 L830.0 127.2 L831.0 128.5 L832.0 130.7 L833.0 128.2 L834.0 127.0 L835.6 126.4 L837.2 127.0 L838.8 126.5 L840.4 126.2 L842.0 126.2 L843.6 125.5 L845.2 125.1 L846.8 125.4 L848.4 125.9 L850.0 125.2 L851.6 125.3 L853.1 125.4 L854.7 126.0 L856.2 126.6 L857.8 125.8 L859.3 125.9 L860.9 125.4 L862.4 126.0 L864.0 126.0" stroke="rgb(120,120,120)" stroke-width="1.7" fill="none" filter="url(#b05)" stroke-linecap="round"/>
<path d="M874.0 126.2 L875.5 126.5 L877.1 127.1 L878.6 126.3 L880.1 125.6 L881.6 126.4 L883.2 126.1 L884.7 126.0 L886.2 126.7 L887.8 126.1 L889.3 126.9 L890.8 126.8 L892.4 126.0 L893.9 127.0 L895.4 127.0 L896.9 126.2 L898.5 127.0 L900.0 127.4 L901.5 127.6 L903.1 127.5 L904.6 128.1 L906.2 126.8 L907.7 127.6 L909.2 127.6 L910.8 126.9 L912.3 127.1 L913.8 126.8 L915.4 127.1 L916.9 127.4 L918.5 127.3 L920.0 126.5 L921.5 126.6 L923.1 126.4 L924.6 127.1 L926.2 127.8 L927.7 127.9 L929.2 127.7 L930.8 126.9 L932.3 127.3 L933.8 126.9 L935.4 127.8 L936.9 127.0 L938.5 127.9 L940.0 126.8 L941.5 127.4 L943.0 127.1 L944.6 127.2 L946.1 127.1 L947.6 126.8 L949.1 126.8 L950.7 127.4 L952.2 127.1 L953.7 126.9 L955.2 127.4 L956.8 126.8 L958.3 126.7 L959.8 126.8 L961.3 127.0 L962.9 126.5 L964.4 127.1 L965.9 127.1 L967.4 126.4 L969.0 126.4 L970.5 125.9 L972.0 127.0" stroke="rgb(133,133,133)" stroke-width="2.0" fill="none" filter="url(#b05)" stroke-linecap="round"/>
<path d="M100.0 125.3 L101.6 125.6 L103.2 126.2 L104.8 126.5 L106.3 126.8 L107.9 127.3 L109.5 127.8 L111.0 127.8 L112.5 127.9 L114.0 128.3 L115.5 128.1 L117.0 128.1 L118.5 128.0 L120.0 128.1 L121.5 128.1 L123.0 128.7 L124.5 128.7 L126.0 129.2 L127.5 129.0 L129.0 129.4 L130.5 129.4 L132.0 129.6 L133.5 129.7 L135.0 129.6 L136.5 129.6 L138.0 129.9 L139.5 129.9 L141.0 129.8 L142.5 130.3 L144.0 130.5 L145.5 130.4 L147.0 130.4 L148.5 130.7 L150.0 130.5 L150.5 128.6 L151.0 127.1 L151.5 125.3 L152.0 123.7 L154.5 124.1 L155.8 125.3 L157.1 126.3 L158.4 127.1 L159.6 127.9 L160.9 128.6 L162.2 129.8 L163.5 130.8 L165.0 130.9 L166.5 130.6 L168.0 130.5 L169.5 130.8 L171.0 130.7 L172.5 130.9 L174.0 131.0 L175.5 130.7 L177.0 130.6 L178.5 131.0 L180.0 130.4 L181.5 130.1 L183.0 129.7 L184.5 129.1 L186.0 128.5 L187.5 128.2 L189.0 127.8 L190.5 126.9 L192.0 126.1 L193.5 125.3 L195.0 124.5 L195.8 123.3 L196.5 121.8 L197.2 120.7 L198.0 119.2 L198.9 120.4 L199.8 122.1 L200.7 123.1 L201.6 124.5 L202.5 125.9 L203.2 127.2 L204.0 128.8 L204.8 130.1 L205.5 131.3 L206.0 129.4 L206.5 128.1 L207.0 126.4 L207.5 124.7 L208.0 122.9 L208.5 121.2 L209.4 122.3 L210.3 123.4 L211.2 124.9 L212.1 126.1 L213.0 127.4 L214.5 129.0 L216.0 130.3 L217.5 129.7 L219.0 128.8 L220.5 128.3 L222.0 128.1 L223.5 127.6 L225.0 127.0 L226.5 126.7 L228.0 127.7 L229.5 128.6 L231.0 129.4 L232.5 129.9 L234.0 130.5 L235.5 129.6 L237.0 128.5 L238.5 127.7 L240.0 126.5 L241.5 125.5 L243.0 124.5 L244.5 125.0 L246.0 125.7 L247.5 126.4 L248.6 127.6 L249.8 128.8 L250.9 129.9 L252.0 131.0 L253.5 130.3 L255.0 129.9 L256.5 129.3 L257.1 127.4 L257.7 125.8 L258.2 124.1 L258.8 122.7 L259.4 121.5 L260.0 120.1 L262.0 118.8 L263.0 121.0 L264.0 123.1 L265.5 123.2 L267.0 123.1 L268.5 123.1 L270.0 123.1 L271.5 123.7 L273.0 124.0" stroke="rgb(143,143,143)" stroke-width="2.2" fill="none" filter="url(#b05)" stroke-linecap="round"/>
<path d="M100.0 125.3 L101.6 125.6 L103.2 126.2 L104.8 126.5 L106.3 126.8 L107.9 127.3 L109.5 127.8 L111.0 127.8 L112.5 127.9 L114.0 128.3 L115.5 128.1 L117.0 128.1 L118.5 128.0 L120.0 128.1 L121.5 128.1 L123.0 128.7 L124.5 128.7 L126.0 129.2 L127.5 129.0 L129.0 129.4 L130.5 129.4 L132.0 129.6 L133.5 129.7 L135.0 129.6 L136.5 129.6 L138.0 129.9 L139.5 129.9 L141.0 129.8 L142.5 130.3 L144.0 130.5 L145.5 130.4 L147.0 130.4 L148.5 130.7 L150.0 130.5 L150.5 128.6 L151.0 127.1 L151.5 125.3 L152.0 123.7 L154.5 124.1 L155.8 125.3 L157.1 126.3 L158.4 127.1 L159.6 127.9 L160.9 128.6 L162.2 129.8 L163.5 130.8 L165.0 130.9 L166.5 130.6 L168.0 130.5 L169.5 130.8 L171.0 130.7 L172.5 130.9 L174.0 131.0 L175.5 130.7 L177.0 130.6 L178.5 131.0 L180.0 130.4 L181.5 130.1 L183.0 129.7 L184.5 129.1 L186.0 128.5 L187.5 128.2 L189.0 127.8 L190.5 126.9 L192.0 126.1 L193.5 125.3 L195.0 124.5 L195.8 123.3 L196.5 121.8 L197.2 120.7 L198.0 119.2 L198.9 120.4 L199.8 122.1 L200.7 123.1 L201.6 124.5 L202.5 125.9 L203.2 127.2 L204.0 128.8 L204.8 130.1 L205.5 131.3 L206.0 129.4 L206.5 128.1 L207.0 126.4 L207.5 124.7 L208.0 122.9 L208.5 121.2 L209.4 122.3 L210.3 123.4 L211.2 124.9 L212.1 126.1 L213.0 127.4 L214.5 129.0 L216.0 130.3 L217.5 129.7 L219.0 128.8 L220.5 128.3 L222.0 128.1 L223.5 127.6 L225.0 127.0 L226.5 126.7 L228.0 127.7 L229.5 128.6 L231.0 129.4 L232.5 129.9 L234.0 130.5 L235.5 129.6 L237.0 128.5 L238.5 127.7 L240.0 126.5 L241.5 125.5 L243.0 124.5 L244.5 125.0 L246.0 125.7 L247.5 126.4 L248.6 127.6 L249.8 128.8 L250.9 129.9 L252.0 131.0 L253.5 130.3 L255.0 129.9 L256.5 129.3 L257.1 127.4 L257.7 125.8 L258.2 124.1 L258.8 122.7 L259.4 121.5 L260.0 120.1 L262.0 118.8 L263.0 121.0 L264.0 123.1 L265.5 123.2 L267.0 123.1 L268.5 123.1 L270.0 123.1 L271.5 123.7 L273.0 124.0" stroke="rgb(189,189,189)" stroke-width="1.2" fill="none" stroke-dasharray="3 2.5 1.5 2 4 3" stroke-linecap="round"/>
<path d="M264.0 124.1 L265.5 123.9 L267.0 124.6 L268.5 124.2 L270.0 124.3 L271.5 124.1 L273.0 124.2 L274.5 125.1 L276.0 124.3 L277.5 124.4 L279.0 124.2 L280.5 124.2 L282.0 125.3 L283.5 124.9 L285.0 125.2 L286.6 125.1 L288.2 125.6 L289.9 125.5 L291.5 125.0 L293.1 125.2 L294.8 125.4 L296.4 126.1 L298.0 126.2 L299.8 125.9 L301.5 126.6 L303.2 126.5 L305.0 127.0" stroke="rgb(168,168,168)" stroke-width="2.0" fill="none" stroke-dasharray="3 3 5 4" filter="url(#b05)" stroke-linecap="round"/>
<path d="M304.0 126.1 L305.8 126.3 L307.5 126.3 L309.2 127.6 L311.0 127.8 L312.2 128.8 L313.5 130.1 L314.8 131.7 L316.0 133.7 L316.9 134.9 L317.8 137.0 L318.6 138.9 L319.5 139.0" stroke="rgb(173,173,173)" stroke-width="6" fill="none" filter="url(#b1)" stroke-linecap="round"/>
<path d="M320.0 137.3 L319.8 138.5 L319.5 140.3 L319.2 142.3 L319.0 143.4 L318.8 144.6 L318.5 146.1 L317.9 148.2 L317.2 149.2 L316.6 151.3 L315.9 152.9 L315.3 153.8 L314.6 155.4 L314.0 156.8 L313.1 158.1 L312.1 160.3 L311.2 160.9 L310.3 161.7 L309.4 164.0 L308.5 165.2 L307.5 166.2 L306.6 168.0" stroke="rgb(112,112,112)" stroke-width="3.2" fill="none" filter="url(#b1)" stroke-linecap="round"/>
<path d="M320.0 137.4 L320.8 138.8 L321.6 140.5 L322.4 142.9 L323.2 144.5 L324.0 146.3 L324.7 147.3 L325.3 149.1 L326.0 151.0" stroke="rgb(97,97,97)" stroke-width="3.0" fill="none" filter="url(#b1)" stroke-linecap="round"/>
<path d="M396 129 Q382 139 366 146 T342 151" stroke="rgb(97,97,97)" stroke-width="3.4" fill="none" filter="url(#b1)" stroke-opacity="0.85"/>
<path d="M372 128 Q366 136 360 140" stroke="rgb(87,87,87)" stroke-width="2.2" fill="none" filter="url(#b1)" stroke-opacity="0.7"/>
<path d="M335 128 Q328 134 324 146" stroke="rgb(76,76,76)" stroke-width="2" fill="none" filter="url(#b1)" stroke-opacity="0.6"/>
<path d="M181 131L185 148L188 134M205 132L209 156L213 136M232 132L236 152L241 135M262 130L266 146" stroke="rgb(92,92,92)" stroke-width="2.4" fill="none" filter="url(#b1)" stroke-opacity="0.8"/>
<polygon points="441.0,124.0 446.0,116.0 452.0,109.0 470.0,106.0 486.0,105.0 500.0,106.0 512.0,113.0 516.0,118.0 512.0,124.0" fill="rgb(56,56,56)" fill-opacity="0.9" filter="url(#b2)"/>
<path d="M442.0 122.2 L443.0 120.7 L444.0 119.5 L445.0 116.8 L446.0 115.4 L447.7 114.5 L449.3 113.4 L451.0 110.3 L453.0 111.5 L455.0 112.6 L457.0 113.4 L459.0 112.8 L461.0 110.0" stroke="rgb(112,112,112)" stroke-width="1.4" fill="none" stroke-dasharray="5 2 3 3" filter="url(#b05)" stroke-opacity="0.85" stroke-linecap="round"/>
<path d="M464.0 112.1 L466.0 110.6 L468.0 109.8 L470.0 108.8 L472.0 109.6 L474.0 108.9 L476.0 110.3 L478.0 109.9 L479.7 107.6 L481.3 105.2 L483.0 105.0" stroke="rgb(107,107,107)" stroke-width="1.4" fill="none" stroke-dasharray="4 3 6 2" filter="url(#b05)" stroke-opacity="0.8" stroke-linecap="round"/>
<path d="M487.0 103.9 L489.0 106.7 L491.0 106.6 L493.0 108.0 L495.0 109.0 L497.0 108.5 L499.0 106.5 L500.3 108.3 L501.7 111.6 L503.0 113.0" stroke="rgb(107,107,107)" stroke-width="1.4" fill="none" stroke-dasharray="3 2 5 3" filter="url(#b05)" stroke-opacity="0.8" stroke-linecap="round"/>
<path d="M505.0 115.8 L507.5 114.3 L510.0 112.9 L512.5 115.7 L515.0 117.0" stroke="rgb(102,102,102)" stroke-width="1.4" fill="none" filter="url(#b05)" stroke-opacity="0.8" stroke-linecap="round"/>
<path d="M452.0 120.1 L454.0 120.1 L456.0 119.7 L458.0 119.6 L460.0 117.5 L462.0 119.2 L464.0 119.2 L466.0 120.0 L468.0 120.6 L470.0 120.3 L472.0 117.7 L474.0 116.0 L476.0 115.7 L478.0 116.3 L480.0 117.3 L482.0 117.1 L484.0 118.9 L486.0 117.5 L488.0 117.3 L490.0 115.8 L492.0 113.5 L494.0 113.6 L496.0 113.7 L498.0 114.8 L500.0 116.2 L502.0 119.0" stroke="rgb(97,97,97)" stroke-width="1.3" fill="none" stroke-dasharray="6 3 2 3 5 4" filter="url(#b05)" stroke-opacity="0.75" stroke-linecap="round"/>
<path d="M525.0 100.8 L524.0 102.9 L523.0 104.7 L523.5 106.3 L524.0 107.8 L526.0 108.8 L528.0 109.0 L529.3 110.0 L530.7 110.5 L532.0 111.6 L533.3 112.3 L534.7 113.2 L536.0 114.1 L537.5 114.6 L539.0 115.4 L540.5 116.2 L542.0 116.3 L543.5 117.0 L545.0 117.7 L546.5 117.8 L548.0 117.8 L549.7 118.3 L551.3 119.0 L553.0 119.4 L554.7 119.4 L556.3 120.1 L558.0 120.5" stroke="rgb(128,128,128)" stroke-width="2.4" fill="none" filter="url(#b05)" stroke-linecap="round"/>
<path d="M524.0 106.2 L525.3 106.7 L526.7 107.9 L528.0 109.3 L529.3 110.4 L530.7 111.0 L532.0 111.8 L533.3 112.4 L534.7 113.2 L536.0 113.6 L537.5 114.5 L539.0 115.1 L540.5 115.3 L542.0 115.8 L543.5 116.6 L545.0 117.0 L546.5 118.0 L548.0 118.7 L549.7 119.2 L551.3 118.9 L553.0 118.9 L554.7 119.3 L556.3 119.8 L558.0 120.6 L559.7 120.9 L561.3 120.8 L563.0 120.9 L564.7 120.8 L566.3 120.3 L568.0 120.4 L569.5 120.3 L571.0 120.4 L572.5 120.1 L574.0 120.5 L575.5 121.1 L577.0 120.6 L578.5 120.9 L580.0 121.0" stroke="rgb(194,194,194)" stroke-width="1.4" fill="none" stroke-dasharray="2.5 2 1.5 3" stroke-linecap="round"/>
<path d="M874.0 126.8 L875.5 126.6 L877.1 127.0 L878.6 126.1 L880.1 126.7 L881.6 126.4 L883.2 126.7 L884.7 126.2 L886.2 126.1 L887.8 126.0 L889.3 126.0 L890.8 126.8 L892.4 126.8 L893.9 127.7 L895.4 127.5 L896.9 126.8 L898.5 127.1 L900.0 127.1 L901.5 126.4 L903.1 126.7 L904.6 126.0 L906.2 126.2 L907.7 126.6 L909.2 127.2 L910.8 128.0 L912.3 127.9 L913.8 126.8 L915.4 126.9 L916.9 126.6 L918.5 127.3 L920.0 128.0 L921.5 127.0 L923.1 127.6 L924.6 127.1 L926.2 126.6 L927.7 126.9 L929.2 126.9 L930.8 126.7 L932.3 126.6 L933.8 126.8 L935.4 127.4 L936.9 126.8 L938.5 126.9 L940.0 126.7 L941.5 127.4 L943.0 127.0 L944.6 127.6 L946.1 126.7 L947.6 127.6 L949.1 127.4 L950.7 128.2 L952.2 128.4 L953.7 128.6 L955.2 127.2 L956.8 127.7 L958.3 127.6 L959.8 128.2 L961.3 127.9 L962.9 127.4 L964.4 128.1 L965.9 128.6 L967.4 127.6 L969.0 126.8 L970.5 126.8 L972.0 127.2" stroke="rgb(158,158,158)" stroke-width="1.3" fill="none" stroke-dasharray="3 4 2 5" stroke-linecap="round"/>
<path d="M945.0 127.0 L946.5 127.0 L948.0 126.6 L949.5 126.7 L951.0 127.1 L952.5 127.5 L954.0 127.0 L955.5 126.9 L957.0 126.5 L958.5 127.4 L960.0 127.0 L961.5 127.8 L963.0 126.8 L964.5 126.1 L966.0 126.4 L967.5 126.6 L969.0 127.3 L970.5 127.9 L972.0 127.2" stroke="rgb(204,204,204)" stroke-width="1.4" fill="none" stroke-dasharray="3 3" stroke-linecap="round"/>
<polygon points="743.0,108.0 757.0,108.0 757.0,114.0 743.0,114.0" fill="rgb(51,51,51)" fill-opacity="0.8" filter="url(#b2)"/>
</g></g>
<rect x="84.3" y="49.3" width="887.2" height="152.0" fill="none" stroke="#000" stroke-width="1.2"/>
<g clip-path="url(#c2)"><path d="M84.30 437.30 L84.60 375.00 L85.28 374.00 L86.72 370.40 L88.64 352.88 L90.08 378.80 L91.52 371.60 L92.00 394.40 L93.44 369.20 L94.88 395.60 L96.80 364.40 L98.72 400.40 L101.12 368.00 L103.04 386.00 L104.00 377.60 L105.92 394.40 L107.84 354.80 L108.80 374.00 L111.20 347.12 L112.64 346.64 L113.60 386.00 L116.00 355.28 L117.44 372.80 L118.40 357.20 L119.84 378.80 L121.28 361.52 L122.72 382.40 L124.16 374.00 L125.60 354.80 L126.56 394.40 L128.96 354.32 L129.92 378.80 L131.84 386.00 L133.76 387.20 L135.68 366.80 L136.64 364.40 L138.08 369.20 L140.00 351.92 L140.96 392.00 L143.84 347.12 L145.28 352.40 L147.20 350.00 L148.64 341.60 L149.60 344.00 L151.04 377.60 L152.96 352.88 L153.92 380.00 L156.32 344.72 L157.76 386.00 L159.20 364.40 L160.64 376.40 L162.08 389.60 L164.00 358.40 L165.44 345.68 L166.40 386.00 L168.80 366.80 L170.24 362.00 L171.20 340.88 L172.16 382.40 L175.04 323.60 L176.48 346.40 L178.40 347.60 L179.84 363.20 L181.76 351.92 L183.20 362.00 L184.64 363.20 L186.08 386.00 L188.96 306.32 L190.40 378.80 L191.84 311.60 L193.76 376.40 L195.68 362.00 L197.60 384.80 L200.48 313.52 L201.44 359.60 L203.36 333.20 L204.80 332.72 L206.24 307.28 L207.68 350.00 L209.60 390.80 L211.04 366.80 L212.48 390.80 L215.84 332.00 L217.76 340.40 L219.20 381.20 L220.16 392.00 L222.56 360.80 L224.96 333.68 L226.40 359.60 L228.32 362.00 L229.76 382.40 L230.24 342.32 L231.68 374.00 L233.60 345.20 L235.04 308.00 L236.48 359.60 L238.40 310.40 L240.32 352.40 L241.76 383.60 L243.20 335.60 L244.64 332.00 L245.60 378.80 L247.04 321.20 L248.48 371.60 L249.92 366.80 L251.84 345.20 L253.28 344.72 L254.24 368.00 L256.64 341.60 L258.56 315.92 L260.00 350.00 L261.44 326.00 L262.88 359.60 L264.80 378.80 L266.72 333.20 L268.16 332.00 L269.60 368.00 L271.04 323.60 L272.48 357.20 L273.92 362.00 L274.88 352.40 L276.32 390.80 L278.24 381.20 L279.68 368.00 L281.12 374.00 L283.04 369.20 L284.48 370.40 L285.92 389.60 L287.84 372.80 L289.76 362.00 L291.20 363.20 L292.64 327.92 L294.08 359.60 L295.04 381.20 L296.00 355.28 L297.92 378.80 L299.84 377.60 L300.80 356.00 L302.24 372.80 L303.68 374.00 L305.12 354.32 L306.08 383.60 L307.52 362.00 L308.96 360.80 L309.92 349.52 L310.08 348.80 L311.04 375.20 L312.96 318.80 L314.88 344.00 L315.84 327.20 L316.80 326.00 L317.76 314.00 L319.20 362.00 L321.12 350.48 L322.56 387.20 L324.00 347.12 L325.44 362.00 L326.88 374.00 L328.32 386.00 L329.76 388.40 L331.68 370.40 L333.12 371.60 L334.56 370.40 L336.00 389.60 L337.44 380.00 L338.40 378.80 L339.84 340.88 L340.80 386.00 L342.24 371.60 L343.68 387.20 L344.64 359.60 L345.60 388.40 L348.00 359.60 L349.44 374.00 L350.88 384.80 L352.80 381.20 L354.24 383.60 L355.20 372.80 L356.16 390.80 L358.56 355.28 L360.00 363.20 L360.96 382.40 L361.92 361.52 L363.36 369.20 L364.80 390.80 L366.24 364.40 L367.68 356.00 L368.64 382.40 L369.60 372.80 L371.04 395.60 L372.96 359.60 L373.92 339.68 L374.88 387.20 L376.32 369.20 L377.28 389.60 L379.20 372.80 L380.16 365.60 L381.60 386.00 L383.04 366.32 L384.00 365.84 L385.44 377.60 L386.40 371.60 L387.84 387.20 L389.28 366.32 L390.72 380.00 L392.64 384.80 L394.08 388.40 L395.04 381.20 L396.96 359.60 L398.40 357.68 L399.36 388.40 L400.80 366.80 L402.24 382.40 L403.20 376.40 L404.64 366.32 L406.08 399.20 L408.00 380.00 L409.44 378.80 L410.88 363.20 L412.32 372.80 L413.76 398.00 L415.20 386.00 L416.64 390.80 L418.56 370.40 L419.52 369.20 L420.48 395.60 L422.40 364.40 L423.84 365.60 L424.80 354.80 L426.24 389.60 L427.68 347.60 L429.12 386.00 L430.08 378.80 L431.52 372.80 L432.48 393.20 L433.92 395.60 L435.36 396.80 L436.32 401.60 L437.76 386.00 L438.72 372.80 L440.16 395.60 L441.60 376.40 L443.04 399.20 L444.48 386.00 L445.92 355.28 L447.36 395.60 L448.80 387.20 L450.24 378.80 L451.68 384.80 L452.64 394.40 L453.60 381.20 L455.04 395.60 L456.00 380.00 L457.44 393.20 L458.88 374.48 L460.32 393.20 L461.76 374.00 L462.72 395.60 L464.64 370.40 L466.08 393.20 L467.52 382.40 L468.96 393.20 L470.40 392.00 L471.84 372.08 L472.80 401.60 L474.24 374.00 L475.68 395.60 L477.12 371.60 L478.56 402.80 L480.48 362.00 L481.92 400.40 L483.36 364.40 L484.80 399.20 L486.24 366.80 L487.20 399.20 L488.64 376.40 L490.08 400.88 L491.52 381.20 L493.44 395.60 L494.88 369.20 L496.32 401.60 L498.24 366.80 L499.68 400.88 L501.12 386.00 L502.56 395.60 L504.48 376.88 L505.92 388.40 L507.36 387.20 L508.80 383.60 L510.24 402.80 L512.16 380.00 L513.60 378.80 L514.56 388.40 L516.00 375.20 L516.96 384.80 L517.92 402.80 L519.36 386.00 L520.00 380.00 L521.44 381.20 L522.40 389.60 L523.36 381.20 L524.80 386.00 L525.76 374.00 L526.72 356.00 L528.16 286.40 L529.12 338.00 L530.08 323.60 L531.04 352.40 L532.00 360.80 L532.96 359.60 L534.40 381.20 L535.84 353.60 L536.80 378.80 L537.76 364.40 L538.72 377.60 L540.16 364.40 L541.12 363.20 L542.08 355.28 L543.04 378.80 L544.00 357.20 L544.96 388.40 L545.92 354.80 L547.36 352.88 L548.80 353.36 L550.24 359.60 L551.20 386.00 L552.64 380.00 L553.60 362.00 L555.04 335.60 L556.00 345.20 L557.44 345.68 L558.40 359.60 L559.84 371.60 L561.28 386.00 L562.72 378.80 L564.16 357.20 L565.12 346.40 L566.56 359.60 L567.52 376.40 L568.96 372.80 L569.92 377.60 L571.36 363.20 L572.32 381.20 L573.28 362.00 L574.72 375.20 L576.64 354.32 L578.08 364.40 L579.52 386.00 L580.96 395.60 L582.40 387.20 L583.84 386.00 L584.80 399.20 L585.76 400.88 L587.20 376.40 L588.64 366.80 L590.08 381.20 L591.52 396.80 L592.96 372.80 L594.40 398.00 L596.32 361.52 L597.76 386.00 L598.72 395.60 L600.16 378.80 L601.60 375.20 L603.04 378.80 L604.48 376.40 L605.92 380.00 L607.36 337.52 L608.32 376.40 L609.28 361.52 L610.72 393.20 L612.64 360.80 L613.60 395.60 L615.04 372.80 L616.48 390.80 L617.92 372.80 L618.88 371.60 L620.32 393.20 L621.76 395.60 L623.20 394.40 L624.64 401.60 L626.56 364.40 L627.52 390.80 L628.96 375.20 L629.92 393.20 L631.36 374.48 L632.80 390.80 L634.24 363.20 L635.20 386.00 L636.64 384.80 L637.60 395.60 L638.56 384.80 L640.00 399.20 L641.44 358.40 L642.88 400.40 L644.32 380.00 L645.76 400.40 L647.20 381.20 L648.16 402.32 L649.60 377.60 L651.04 395.60 L652.48 402.80 L653.92 386.00 L654.88 380.00 L655.84 406.40 L657.28 393.20 L658.72 390.80 L660.16 393.20 L661.60 345.68 L662.56 386.00 L663.52 374.00 L664.96 395.60 L666.40 390.80 L667.36 395.60 L668.32 365.60 L669.76 366.80 L670.72 394.40 L672.16 374.00 L673.60 369.20 L675.04 363.20 L676.00 372.80 L677.44 371.60 L678.88 359.60 L680.32 402.80 L681.76 384.80 L683.20 374.00 L684.64 373.52 L685.60 380.00 L687.04 380.72 L688.48 378.80 L689.44 372.80 L690.88 384.80 L692.32 383.60 L693.28 404.00 L694.24 386.00 L695.20 400.40 L696.64 367.28 L697.60 402.80 L698.56 372.80 L700.00 404.72 L701.44 390.80 L702.88 371.60 L704.32 362.00 L705.28 395.60 L706.72 402.32 L708.16 401.60 L709.60 393.20 L710.56 384.08 L712.00 390.80 L713.44 393.20 L714.40 382.40 L715.84 378.80 L717.28 372.80 L718.24 371.12 L719.20 399.20 L720.64 402.80 L722.08 395.60 L723.52 393.20 L724.48 395.60 L725.92 382.40 L726.88 378.80 L728.32 395.60 L729.28 406.40 L730.72 381.20 L732.64 376.88 L733.60 395.60 L735.04 404.00 L736.00 390.80 L737.44 400.40 L738.88 401.60 L740.00 372.80 L741.44 405.20 L742.88 399.20 L744.32 375.20 L745.76 405.68 L747.20 404.72 L749.12 393.20 L750.56 393.68 L752.00 405.20 L753.92 371.60 L755.36 407.12 L756.32 383.60 L757.28 407.60 L759.20 375.20 L760.64 386.00 L762.08 407.60 L763.52 386.00 L764.96 368.72 L766.40 393.20 L767.84 408.08 L768.80 381.20 L770.24 375.92 L771.20 380.00 L772.64 379.28 L774.08 362.00 L775.52 402.80 L776.96 400.40 L778.40 390.80 L779.84 392.00 L781.28 402.80 L782.72 395.60 L784.16 375.92 L785.60 400.40 L787.04 401.60 L788.48 402.32 L789.92 408.80 L791.36 394.40 L792.80 380.00 L793.76 402.80 L795.20 378.32 L796.64 402.80 L798.08 404.72 L799.52 393.20 L801.44 373.52 L802.88 402.80 L803.84 406.40 L804.80 393.20 L806.24 399.20 L807.68 380.00 L809.12 399.20 L811.04 381.20 L812.00 398.00 L813.44 374.00 L814.88 363.92 L816.32 388.40 L817.28 402.80 L818.72 390.32 L820.16 402.80 L821.60 401.60 L823.04 375.44 L824.00 395.60 L824.96 389.60 L826.40 402.80 L827.84 396.80 L829.28 400.40 L830.72 398.00 L832.16 401.60 L833.60 399.20 L835.04 404.00 L836.48 406.40 L837.92 402.80 L839.36 404.00 L840.80 401.60 L842.24 403.28 L843.68 401.60 L845.12 404.72 L846.56 402.80 L848.00 401.60 L849.92 381.20 L851.36 399.20 L852.80 400.40 L854.72 377.60 L856.16 401.60 L857.60 400.40 L859.04 380.72 L860.48 402.80 L861.92 396.80 L863.36 399.20 L864.80 394.40 L866.24 404.00 L868.16 378.32 L869.12 400.40 L871.04 377.60 L872.00 399.20 L873.44 376.40 L874.88 401.60 L876.80 374.00 L878.24 399.20 L879.68 400.40 L881.12 401.60 L882.56 392.00 L883.52 398.00 L885.44 375.20 L886.88 386.00 L888.32 395.60 L889.76 394.40 L891.20 396.80 L892.64 398.00 L894.08 402.80 L895.52 388.88 L896.96 395.60 L898.40 399.20 L899.84 394.40 L901.28 395.60 L902.72 404.00 L904.16 406.40 L905.60 395.60 L907.52 359.12 L908.96 401.60 L910.40 395.60 L911.84 377.60 L913.28 378.32 L914.72 399.20 L916.16 374.48 L917.60 390.80 L919.04 395.60 L920.00 393.20 L921.44 398.00 L922.88 396.80 L924.32 387.20 L925.76 401.60 L927.20 366.32 L928.64 402.80 L930.08 401.60 L931.04 384.80 L932.00 402.80 L933.44 390.80 L935.36 384.80 L936.80 388.40 L938.24 390.80 L939.68 399.20 L941.12 398.00 L942.08 392.00 L943.04 390.80 L944.48 374.00 L945.92 371.12 L946.88 378.80 L947.84 399.20 L948.80 372.80 L949.76 374.00 L951.20 304.88 L952.64 378.80 L953.60 389.60 L954.56 371.60 L956.00 357.68 L957.44 364.40 L958.40 395.60 L959.84 380.00 L961.28 386.00 L962.24 378.80 L963.68 390.80 L964.64 393.20 L966.08 350.48 L967.52 377.60 L968.96 339.20 L969.92 357.20 L970.64 374.00" fill="none" stroke="#1f77b4" stroke-width="1.45" stroke-linejoin="round" stroke-linecap="butt"/></g>
<rect x="84.3" y="286.3" width="887.2" height="151.0" fill="none" stroke="#000" stroke-width="1.2"/>
<g font-family="Liberation Sans, sans-serif" fill="#000">
<text x="527.90" y="25.90" font-size="14.65" text-anchor="middle" textLength="443.85" lengthAdjust="spacingAndGlyphs" xml:space="preserve">Grape Narrow Spectrum, Freq. = 10.0 MHz, 2024-06-14T00-00 ,</text>
<text x="527.90" y="42.60" font-size="14.65" text-anchor="middle" textLength="506.05" lengthAdjust="spacingAndGlyphs" xml:space="preserve">Lat.  31.90, Long. -110.96 (GridDM41mv) Station: WA9TKK Subchannel 0</text>
<text x="527.90" y="245.10" font-size="17.58" text-anchor="middle" textLength="92.47" lengthAdjust="spacingAndGlyphs" xml:space="preserve">Hours, UTC</text>
<text x="527.10" y="279.00" font-size="21.10" text-anchor="middle" textLength="261.90" lengthAdjust="spacingAndGlyphs" xml:space="preserve">Peak Amplitude by Minute</text>
<text x="527.90" y="480.50" font-size="17.58" text-anchor="middle" textLength="92.47" lengthAdjust="spacingAndGlyphs" xml:space="preserve">Hours, UTC</text>
<text x="157.90" y="219.40" font-size="17.58" text-anchor="middle" textLength="21.21" lengthAdjust="spacingAndGlyphs" xml:space="preserve">02</text>
<text x="232.72" y="219.40" font-size="17.58" text-anchor="middle" textLength="21.21" lengthAdjust="spacingAndGlyphs" xml:space="preserve">04</text>
<text x="307.54" y="219.40" font-size="17.58" text-anchor="middle" textLength="21.21" lengthAdjust="spacingAndGlyphs" xml:space="preserve">06</text>
<text x="382.36" y="219.40" font-size="17.58" text-anchor="middle" textLength="21.21" lengthAdjust="spacingAndGlyphs" xml:space="preserve">08</text>
<text x="457.18" y="219.40" font-size="17.58" text-anchor="middle" textLength="21.21" lengthAdjust="spacingAndGlyphs" xml:space="preserve">10</text>
<text x="532.00" y="219.40" font-size="17.58" text-anchor="middle" textLength="21.21" lengthAdjust="spacingAndGlyphs" xml:space="preserve">12</text>
<text x="606.82" y="219.40" font-size="17.58" text-anchor="middle" textLength="21.21" lengthAdjust="spacingAndGlyphs" xml:space="preserve">14</text>
<text x="681.64" y="219.40" font-size="17.58" text-anchor="middle" textLength="21.21" lengthAdjust="spacingAndGlyphs" xml:space="preserve">16</text>
<text x="756.46" y="219.40" font-size="17.58" text-anchor="middle" textLength="21.21" lengthAdjust="spacingAndGlyphs" xml:space="preserve">18</text>
<text x="831.28" y="219.40" font-size="17.58" text-anchor="middle" textLength="21.21" lengthAdjust="spacingAndGlyphs" xml:space="preserve">20</text>
<text x="906.10" y="219.40" font-size="17.58" text-anchor="middle" textLength="21.21" lengthAdjust="spacingAndGlyphs" xml:space="preserve">22</text>
<text x="84.30" y="457.00" font-size="17.58" text-anchor="middle" textLength="21.21" lengthAdjust="spacingAndGlyphs" xml:space="preserve">00</text>
<text x="158.23" y="457.00" font-size="17.58" text-anchor="middle" textLength="21.21" lengthAdjust="spacingAndGlyphs" xml:space="preserve">02</text>
<text x="232.17" y="457.00" font-size="17.58" text-anchor="middle" textLength="21.21" lengthAdjust="spacingAndGlyphs" xml:space="preserve">04</text>
<text x="306.10" y="457.00" font-size="17.58" text-anchor="middle" textLength="21.21" lengthAdjust="spacingAndGlyphs" xml:space="preserve">06</text>
<text x="380.04" y="457.00" font-size="17.58" text-anchor="middle" textLength="21.21" lengthAdjust="spacingAndGlyphs" xml:space="preserve">08</text>
<text x="453.97" y="457.00" font-size="17.58" text-anchor="middle" textLength="21.21" lengthAdjust="spacingAndGlyphs" xml:space="preserve">10</text>
<text x="527.90" y="457.00" font-size="17.58" text-anchor="middle" textLength="21.21" lengthAdjust="spacingAndGlyphs" xml:space="preserve">12</text>
<text x="601.84" y="457.00" font-size="17.58" text-anchor="middle" textLength="21.21" lengthAdjust="spacingAndGlyphs" xml:space="preserve">14</text>
<text x="675.77" y="457.00" font-size="17.58" text-anchor="middle" textLength="21.21" lengthAdjust="spacingAndGlyphs" xml:space="preserve">16</text>
<text x="749.71" y="457.00" font-size="17.58" text-anchor="middle" textLength="21.21" lengthAdjust="spacingAndGlyphs" xml:space="preserve">18</text>
<text x="823.64" y="457.00" font-size="17.58" text-anchor="middle" textLength="21.21" lengthAdjust="spacingAndGlyphs" xml:space="preserve">20</text>
<text x="897.57" y="457.00" font-size="17.58" text-anchor="middle" textLength="21.21" lengthAdjust="spacingAndGlyphs" xml:space="preserve">22</text>
<text x="971.51" y="457.00" font-size="17.58" text-anchor="middle" textLength="21.21" lengthAdjust="spacingAndGlyphs" xml:space="preserve">24</text>
<text x="78.50" y="205.20" font-size="17.58" text-anchor="end" textLength="16.62" lengthAdjust="spacingAndGlyphs" xml:space="preserve">-5</text>
<text x="78.50" y="190.07" font-size="17.58" text-anchor="end" textLength="16.62" lengthAdjust="spacingAndGlyphs" xml:space="preserve">-4</text>
<text x="78.50" y="174.94" font-size="17.58" text-anchor="end" textLength="16.62" lengthAdjust="spacingAndGlyphs" xml:space="preserve">-3</text>
<text x="78.50" y="159.81" font-size="17.58" text-anchor="end" textLength="16.62" lengthAdjust="spacingAndGlyphs" xml:space="preserve">-2</text>
<text x="78.50" y="144.68" font-size="17.58" text-anchor="end" textLength="16.62" lengthAdjust="spacingAndGlyphs" xml:space="preserve">-1</text>
<text x="78.50" y="129.55" font-size="17.58" text-anchor="end" textLength="10.60" lengthAdjust="spacingAndGlyphs" xml:space="preserve">0</text>
<text x="78.50" y="114.42" font-size="17.58" text-anchor="end" textLength="10.60" lengthAdjust="spacingAndGlyphs" xml:space="preserve">1</text>
<text x="78.50" y="99.29" font-size="17.58" text-anchor="end" textLength="10.60" lengthAdjust="spacingAndGlyphs" xml:space="preserve">2</text>
<text x="78.50" y="84.16" font-size="17.58" text-anchor="end" textLength="10.60" lengthAdjust="spacingAndGlyphs" xml:space="preserve">3</text>
<text x="78.50" y="69.03" font-size="17.58" text-anchor="end" textLength="10.60" lengthAdjust="spacingAndGlyphs" xml:space="preserve">4</text>
<text x="77.80" y="441.45" font-size="17.58" text-anchor="end" textLength="37.11" lengthAdjust="spacingAndGlyphs" xml:space="preserve">0.00</text>
<text x="77.80" y="419.95" font-size="17.58" text-anchor="end" textLength="37.11" lengthAdjust="spacingAndGlyphs" xml:space="preserve">0.02</text>
<text x="77.80" y="398.45" font-size="17.58" text-anchor="end" textLength="37.11" lengthAdjust="spacingAndGlyphs" xml:space="preserve">0.04</text>
<text x="77.80" y="376.95" font-size="17.58" text-anchor="end" textLength="37.11" lengthAdjust="spacingAndGlyphs" xml:space="preserve">0.06</text>
<text x="77.80" y="355.45" font-size="17.58" text-anchor="end" textLength="37.11" lengthAdjust="spacingAndGlyphs" xml:space="preserve">0.08</text>
<text x="77.80" y="333.95" font-size="17.58" text-anchor="end" textLength="37.11" lengthAdjust="spacingAndGlyphs" xml:space="preserve">0.10</text>
<text x="77.80" y="312.45" font-size="17.58" text-anchor="end" textLength="37.11" lengthAdjust="spacingAndGlyphs" xml:space="preserve">0.12</text>
<text x="77.80" y="290.95" font-size="17.58" text-anchor="end" textLength="37.11" lengthAdjust="spacingAndGlyphs" xml:space="preserve">0.14</text>
<text x="49.20" y="125.30" font-size="17.58" text-anchor="middle" textLength="148.69" lengthAdjust="spacingAndGlyphs" xml:space="preserve" transform="rotate(-90 49.20 125.30)">Doppler Shift (Hz)</text>
<text x="30.20" y="361.60" font-size="17.58" text-anchor="middle" textLength="247.06" lengthAdjust="spacingAndGlyphs" xml:space="preserve" transform="rotate(-90 30.20 361.60)">Amplitude, uncalibrated units</text>
</g>
</svg>
</body></html>
